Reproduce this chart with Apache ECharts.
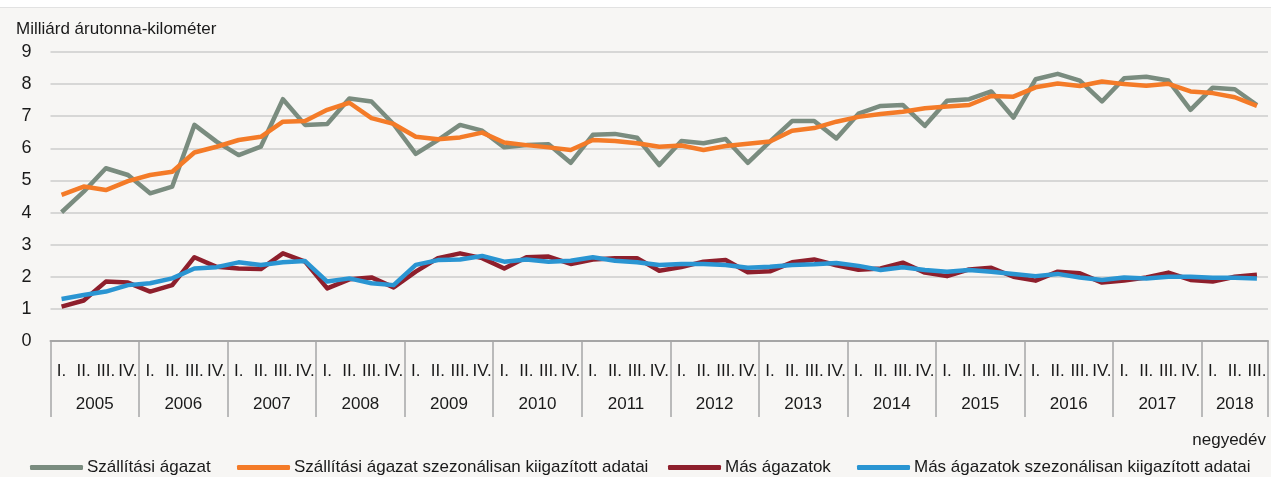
<!DOCTYPE html>
<html>
<head>
    <meta charset="utf-8">
    <title>ECharts</title>
    <script src="https://cdn.jsdelivr.net/npm/echarts@6/dist/echarts.min.js"></script>
</head>
<style>
    html, body {
        margin: 0;
        background: #f7f6f4;
    }
    #main {
        width: 1271px;
        height: 477px;
    }
</style>
<body>
    <div id="main"></div>
    <script type="text/javascript">
        var years = ['2005', '2006', '2007', '2008', '2009', '2010', '2011',
                     '2012', '2013', '2014', '2015', '2016', '2017', '2018'];
        var quarterNames = ['I.', 'II.', 'III.', 'IV.'];

        // negyedévek: 2005 I. - 2018 III.
        var quarters = [];
        for (var y = 0; y < years.length; y++) {
            for (var q = 0; q < 4; q++) {
                if (y == years.length - 1 && q == 3) break;
                quarters.push(quarterNames[q]);
            }
        }

        var szallitas = [4.01, 4.65, 5.38, 5.17, 4.60, 4.81, 6.73, 6.21, 5.79, 6.05,
                         7.53, 6.73, 6.76, 7.55, 7.46, 6.75, 5.83, 6.26, 6.73, 6.55,
                         6.03, 6.10, 6.13, 5.55, 6.42, 6.45, 6.33, 5.48, 6.23, 6.16,
                         6.29, 5.55, 6.21, 6.85, 6.85, 6.31, 7.08, 7.32, 7.35, 6.70,
                         7.48, 7.53, 7.77, 6.96, 8.15, 8.32, 8.11, 7.46, 8.18, 8.23,
                         8.11, 7.20, 7.89, 7.84, 7.35];
        var szallitasSzez = [4.55, 4.81, 4.70, 4.98, 5.17, 5.27, 5.87, 6.05, 6.26, 6.36,
                             6.83, 6.85, 7.20, 7.42, 6.94, 6.76, 6.36, 6.28, 6.34, 6.49,
                             6.18, 6.10, 6.03, 5.95, 6.26, 6.23, 6.16, 6.05, 6.09, 5.95,
                             6.07, 6.14, 6.21, 6.55, 6.63, 6.83, 6.98, 7.07, 7.14, 7.25,
                             7.30, 7.35, 7.63, 7.61, 7.90, 8.02, 7.94, 8.08, 8.00, 7.95,
                             8.01, 7.77, 7.72, 7.59, 7.32];
        var mas = [1.07, 1.26, 1.85, 1.82, 1.54, 1.74, 2.61, 2.31, 2.26, 2.24,
                   2.73, 2.47, 1.64, 1.92, 1.98, 1.67, 2.16, 2.58, 2.73, 2.58,
                   2.26, 2.61, 2.63, 2.40, 2.54, 2.58, 2.58, 2.19, 2.30, 2.47,
                   2.52, 2.14, 2.17, 2.45, 2.54, 2.36, 2.22, 2.26, 2.44, 2.13,
                   2.02, 2.23, 2.28, 2.00, 1.88, 2.16, 2.11, 1.82, 1.88, 1.98,
                   2.13, 1.90, 1.85, 2.00, 2.06];
        var masSzez = [1.31, 1.43, 1.54, 1.74, 1.80, 1.95, 2.26, 2.30, 2.45, 2.37,
                       2.45, 2.49, 1.85, 1.95, 1.80, 1.74, 2.37, 2.52, 2.54, 2.65,
                       2.47, 2.54, 2.47, 2.50, 2.61, 2.50, 2.45, 2.37, 2.40, 2.40,
                       2.37, 2.28, 2.31, 2.37, 2.39, 2.43, 2.34, 2.21, 2.30, 2.21,
                       2.16, 2.21, 2.16, 2.09, 2.02, 2.09, 1.98, 1.90, 1.98, 1.95,
                       2.00, 2.00, 1.97, 1.97, 1.95];

        var names = ['Szállítási ágazat',
                     'Szállítási ágazat szezonálisan kiigazított adatai',
                     'Más ágazatok',
                     'Más ágazatok szezonálisan kiigazított adatai'];
        var colors = ['#7a8c7f', '#f47b28', '#8e1f2c', '#2a95d2'];
        var legendLeft = [30, 237, 668, 857];

        var font = 'Liberation Sans, Arial, sans-serif';
        var textColor = '#1a1a1a';
        var axisGray = '#a6a6a6';

        function yearLabel(v) {
            // évek címkéje a négy negyedév közepén, 2018-nál a három közepén
            if (v % 4 == 2 && v < 52) return years[(v - 2) / 4];
            if (v == 53.5) return years[13];
            return '';
        }

        var legends = [];
        for (var i = 0; i < names.length; i++) {
            legends.push({
                data: [names[i]],
                left: legendLeft[i],
                top: 459,
                padding: 0,
                icon: 'roundRect',
                itemWidth: 53,
                itemHeight: 5,
                itemGap: 0,
                textStyle: { fontFamily: font, fontSize: 17, color: textColor, padding: [0, 0, 0, -1] }
            });
        }

        var series = [];
        var datas = [szallitas, szallitasSzez, mas, masSzez];
        for (var i = 0; i < names.length; i++) {
            series.push({
                name: names[i],
                type: 'line',
                data: datas[i],
                symbol: 'none',
                color: colors[i],
                lineStyle: { width: 4.5, color: colors[i], join: 'round' },
                silent: true
            });
        }

        var option = {
            backgroundColor: '#f7f6f4',
            animation: false,
            title: [
                {
                    text: 'Milliárd árutonna-kilométer',
                    left: 11,
                    top: 16,
                    textStyle: { fontFamily: font, fontSize: 17, fontWeight: 'normal', color: textColor }
                },
                {
                    text: 'negyedév',
                    right: 0,
                    top: 427,
                    textStyle: { fontFamily: font, fontSize: 17, fontWeight: 'normal', color: textColor }
                }
            ],
            graphic: [
                { type: 'rect', left: 0, top: 0, shape: { width: 1271, height: 7 }, style: { fill: '#ffffff' } },
                { type: 'rect', left: 0, top: 7, shape: { width: 1271, height: 1 }, style: { fill: '#e2e2e2' } }
            ],
            legend: legends,
            grid: {
                left: 50.5,
                right: -3.4,
                top: 52,
                bottom: 136
            },
            xAxis: [
                {
                    type: 'category',
                    data: quarters,
                    boundaryGap: true,
                    axisLine: { lineStyle: { color: axisGray, width: 2 } },
                    axisTick: { show: false },
                    axisLabel: { interval: 0, margin: 22, fontFamily: font, fontSize: 17, color: textColor },
                    splitLine: { show: false }
                },
                {
                    type: 'value',
                    min: 0,
                    max: 55,
                    interval: 4,
                    position: 'bottom',
                    axisLine: { show: false },
                    axisTick: { show: true, length: 76, lineStyle: { color: axisGray, width: 1.5 } },
                    axisLabel: { show: false },
                    splitLine: { show: false }
                },
                {
                    type: 'value',
                    min: 0,
                    max: 55,
                    interval: 0.5,
                    position: 'bottom',
                    axisLine: { show: false },
                    axisTick: { show: false },
                    axisLabel: { margin: 55, fontFamily: font, fontSize: 17, color: textColor, formatter: yearLabel },
                    splitLine: { show: false }
                }
            ],
            yAxis: {
                type: 'value',
                min: 0,
                max: 9,
                interval: 1,
                axisLine: { show: false },
                axisTick: { show: false },
                axisLabel: { margin: 19, fontFamily: font, fontSize: 18, color: textColor },
                splitLine: { lineStyle: { color: '#cccccc', width: 1.5 } }
            },
            series: series
        };

        var myChart = echarts.init(document.getElementById('main'));
        myChart.setOption(option);
    </script>
</body>
</html>
